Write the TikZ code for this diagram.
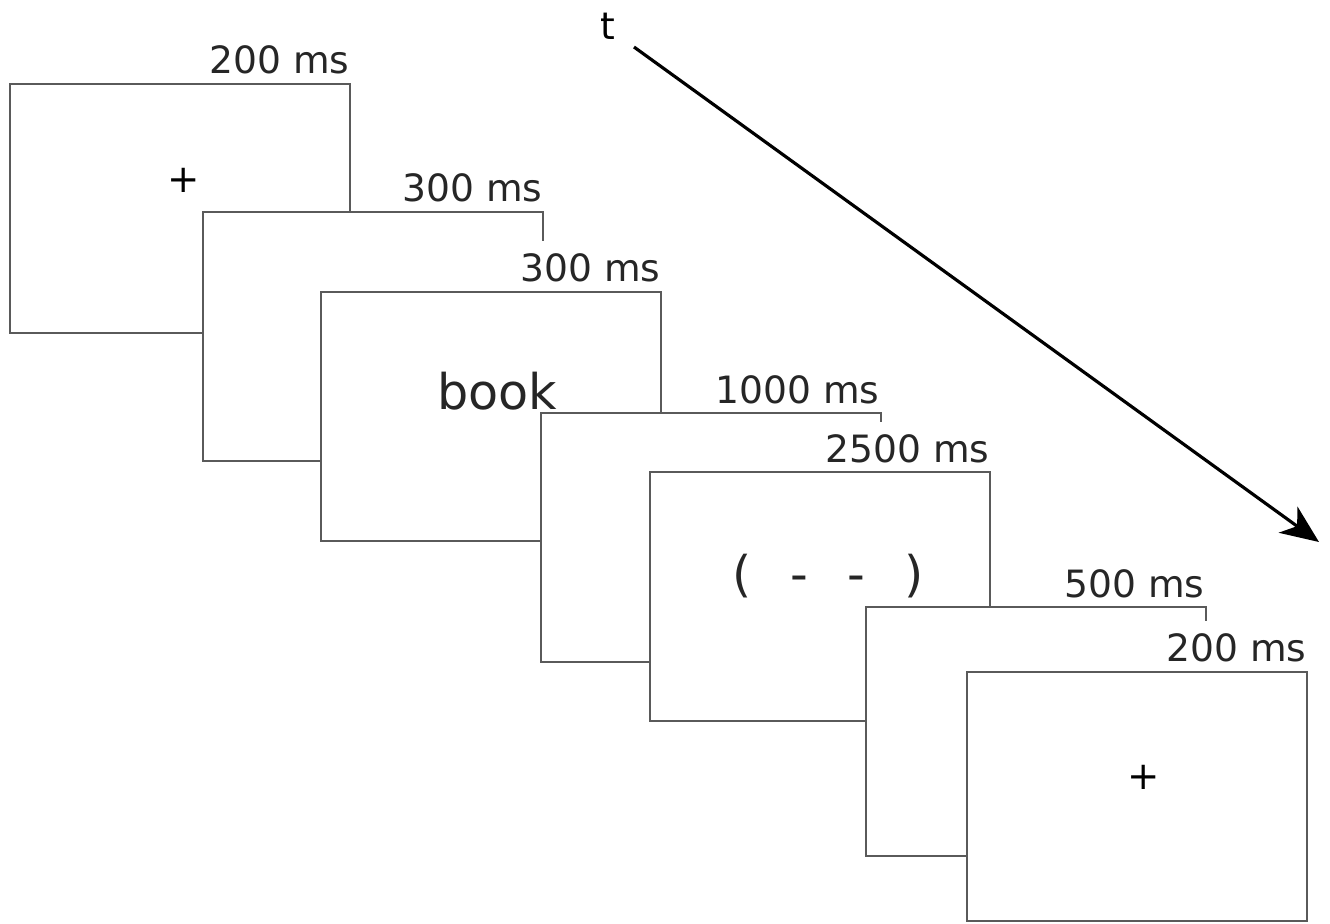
\documentclass[tikz,border=0pt]{standalone}
\usepackage{fontspec}
\setmainfont{DejaVu Sans}
\usetikzlibrary{arrows.meta}
\definecolor{framegray}{HTML}{5A5A5A}
\definecolor{inkgray}{HTML}{262626}
\tikzset{
  screen/.style={draw=framegray, fill=white, line width=0.7pt,
    minimum width=3.40cm, minimum height=2.49cm, inner sep=0pt, outer sep=0pt,
    anchor=north west},
  % duration labels are drawn just before their own screen, so the white
  % patch hides the previous screen's edge but not this screen's top line
  durlabel/.style={fill=white, text=inkgray, inner xsep=0pt, inner ysep=0.11cm,
    text height=0.29cm, text depth=0pt, anchor=base east,
    font=\fontsize{10.7}{12}\selectfont},
  stimulus/.style={text=inkgray, inner sep=0pt},
  smallstim/.style={stimulus, text=black, font=\fontsize{11}{12}\selectfont},
  bigstim/.style={stimulus, font=\fontsize{14}{16}\selectfont},
  timearrow/.style={draw=black, line width=0.9pt,
    -{Stealth[length=0.38cm, width=0.32cm, inset=0.11cm]}}
}
\begin{document}
\begin{tikzpicture}
\useasboundingbox (0,0) rectangle (13.30,-9.23);

% top-left corners of the seven screens
\coordinate (c1) at (0.10,-0.84);
\coordinate (c2) at (2.03,-2.12);
\coordinate (c3) at (3.21,-2.92);
\coordinate (c4) at (5.41,-4.13);
\coordinate (c5) at (6.50,-4.72);
\coordinate (c6) at (8.66,-6.07);
\coordinate (c7) at (9.67,-6.72);

% fixation
\node[durlabel] (l1) at ([shift={(3.40,0.11)}]c1) {200 ms};
\node[screen] (s1) at (c1) {};
\node[smallstim] (s1c) at (1.84,-1.80) {+};

% blank
\node[durlabel] (l2) at ([shift={(3.40,0.11)}]c2) {300 ms};
\node[screen] (s2) at (c2) {};

% word
\node[durlabel] (l3) at ([shift={(3.40,0.11)}]c3) {300 ms};
\node[screen] (s3) at (c3) {};
\node[bigstim] (s3c) at (4.97,-3.91) {book};

% blank
\node[durlabel] (l4) at ([shift={(3.39,0.10)}]c4) {1000 ms};
\node[screen] (s4) at (c4) {};

% response cue
\node[durlabel] (l5) at ([shift={(3.40,0.10)}]c5) {2500 ms};
\node[screen] (s5) at (c5) {};
\node[bigstim] (s5c) at (8.28,-5.76) {(\hspace{0.39cm}-\hspace{0.39cm}-\hspace{0.39cm})};

% blank
\node[durlabel] (l6) at ([shift={(3.39,0.10)}]c6) {500 ms};
\node[screen] (s6) at (c6) {};

% fixation
\node[durlabel] (l7) at ([shift={(3.40,0.11)}]c7) {200 ms};
\node[screen] (s7) at (c7) {};
\node[smallstim] (s7c) at (11.44,-7.77) {+};

% time axis
\node[stimulus, text=black, font=\fontsize{10.7}{12}\selectfont] (t) at (6.08,-0.26) {t};
\coordinate (tstart) at (6.34,-0.47);
\coordinate (tend) at (13.19,-5.42);
\draw[timearrow] (tstart) -- (tend);
\end{tikzpicture}
\end{document}
